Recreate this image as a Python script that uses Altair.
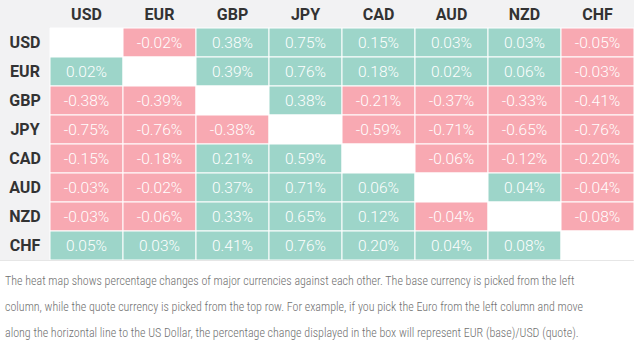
import altair as alt
import pandas as pd

currencies = ["USD", "EUR", "GBP", "JPY", "CAD", "AUD", "NZD", "CHF"]

usd = [None, -0.02, 0.38, 0.75, 0.15, 0.03, 0.03, -0.05]
eur = [0.02, None, 0.39, 0.76, 0.18, 0.02, 0.06, -0.03]
gbp = [-0.38, -0.39, None, 0.38, -0.21, -0.37, -0.33, -0.41]
jpy = [-0.75, -0.76, -0.38, None, -0.59, -0.71, -0.65, -0.76]
cad = [-0.15, -0.18, 0.21, 0.59, None, -0.06, -0.12, -0.20]
aud = [-0.03, -0.02, 0.37, 0.71, 0.06, None, 0.04, -0.04]
nzd = [-0.03, -0.06, 0.33, 0.65, 0.12, -0.04, None, -0.08]
chf = [0.05, 0.03, 0.41, 0.76, 0.20, 0.04, 0.08, None]

caption = [
    "The heat map shows percentage changes of major currencies against each other. The base currency is picked from the left",
    "column, while the quote currency is picked from the top row. For example, if you pick the Euro from the left column and move",
    "along the horizontal line to the US Dollar, the percentage change displayed in the box will represent EUR (base)/USD (quote).",
]

rows = [usd, eur, gbp, jpy, cad, aud, nzd, chf]
records = []
for base, vals in zip(currencies, rows):
    for quote, v in zip(currencies, vals):
        if v is None:
            kind, label = "none", ""
        else:
            kind = "pos" if v > 0 else "neg"
            label = f"{v:.2f}%"
        records.append({"base": base, "quote": quote, "v": v, "kind": kind, "label": label})
df = pd.DataFrame(records)
hdr = pd.DataFrame({"cur": currencies})

W, H = 634, 353
TEAL = "#9dd5c9"
PINK = "#f8a9b2"
GREY = "#f2f2f3"

xs = alt.Scale(domain=currencies, range=[50, 634], paddingInner=0, paddingOuter=0)
ys = alt.Scale(domain=currencies, range=[28, 260], paddingInner=0, paddingOuter=0)

dummy = pd.DataFrame({"a": [0]})

bg_top = alt.Chart(dummy).mark_rect(color=GREY).encode(
    x=alt.value(0), x2=alt.value(634), y=alt.value(0), y2=alt.value(28))
bg_left = alt.Chart(dummy).mark_rect(color=GREY).encode(
    x=alt.value(0), x2=alt.value(50), y=alt.value(28), y2=alt.value(260))
bottom_line = alt.Chart(dummy).mark_rule(color="#e6e6e6", strokeWidth=1).encode(
    x=alt.value(0), x2=alt.value(634), y=alt.value(260.5))

cells = alt.Chart(df).mark_rect(stroke="white", strokeWidth=1).encode(
    x=alt.X("quote:N", scale=xs, axis=None),
    y=alt.Y("base:N", scale=ys, axis=None),
    color=alt.Color("kind:N", scale=alt.Scale(domain=["pos", "neg", "none"], range=[TEAL, PINK, "#ffffff"]), legend=None),
)

cell_text = alt.Chart(df).mark_text(color="white", font="Roboto", fontWeight=300, fontSize=15.5).encode(
    x=alt.X("quote:N", scale=xs, axis=None, bandPosition=0.5),
    y=alt.Y("base:N", scale=ys, axis=None, bandPosition=0.5),
    text="label:N",
)

col_head = alt.Chart(hdr).mark_text(color="#333333", font="Roboto", fontWeight="bold", fontSize=16).encode(
    x=alt.X("cur:N", scale=xs, axis=None, bandPosition=0.5),
    y=alt.value(15),
    text="cur:N",
)
row_head = alt.Chart(hdr).mark_text(color="#333333", font="Roboto", fontWeight="bold", fontSize=16).encode(
    x=alt.value(25),
    y=alt.Y("cur:N", scale=ys, axis=None, bandPosition=0.5),
    text="cur:N",
)

cap_layers = []
for i, line in enumerate(caption):
    cap_layers.append(
        alt.Chart(pd.DataFrame({"t": [line]})).mark_text(
            align="left", baseline="middle", color="#707070",
            font="Roboto Condensed, Liberation Sans Narrow, DejaVu Sans Condensed, Roboto",
            fontWeight=300, fontSize=12,
        ).encode(x=alt.value(5), y=alt.value(281 + i * 26), text="t:N")
    )

chart = alt.layer(bg_top, bg_left, cells, cell_text, col_head, row_head, bottom_line, *cap_layers).properties(
    width=W, height=H, padding=0, autosize=alt.AutoSizeParams(type="none"), background="white"
).configure_view(stroke=None)

chart.save("out.html", embed_options={"renderer": "svg", "actions": False})
